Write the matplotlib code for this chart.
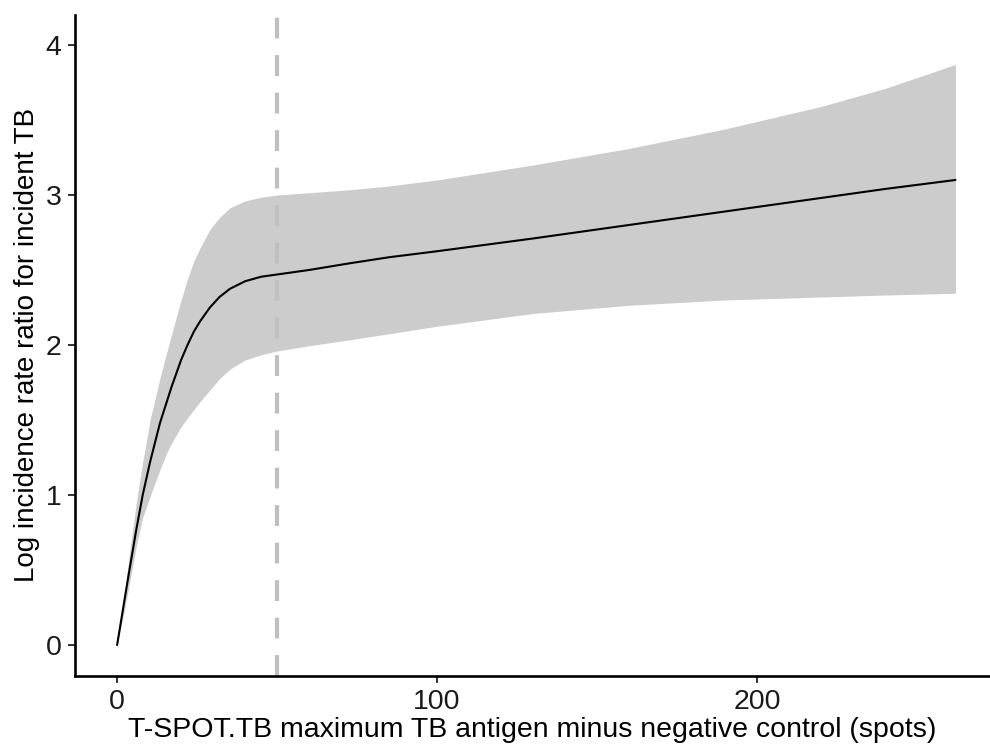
import matplotlib
matplotlib.use("Agg")
import matplotlib.pyplot as plt

plt.rcParams['font.family'] = ['Liberation Sans', 'DejaVu Sans']

# spline estimate with its 95% band, read at these spot counts
spots = [0, 2, 3.5, 6, 8, 10.3, 13.4, 15.5, 17, 20, 22, 24, 26, 29, 32, 35.3, 40, 45,
         50, 60, 72.8, 85, 100, 130, 160, 190, 220, 240, 262]
est = [0.0, 0.26, 0.455, 0.77, 1.0, 1.22, 1.48, 1.62, 1.72, 1.90, 2.00, 2.09, 2.16,
       2.25, 2.32, 2.375, 2.425, 2.455, 2.47, 2.50, 2.545, 2.585, 2.625, 2.71, 2.80,
       2.89, 2.98, 3.04, 3.10]
upper = [0.0, 0.30, 0.55, 0.95, 1.22, 1.50, 1.78, 1.95, 2.07, 2.30, 2.44, 2.56, 2.65,
         2.77, 2.85, 2.915, 2.96, 2.985, 3.0, 3.015, 3.035, 3.06, 3.10, 3.20, 3.31,
         3.44, 3.59, 3.71, 3.87]
lower = [0.0, 0.20, 0.37, 0.66, 0.85, 0.99, 1.17, 1.28, 1.345, 1.455, 1.515, 1.57, 1.625,
         1.70, 1.775, 1.84, 1.90, 1.935, 1.96, 1.995, 2.035, 2.075, 2.125, 2.21, 2.265,
         2.30, 2.32, 2.333, 2.345]

cutoff = 50

fig = plt.figure(figsize=(9.9, 7.47), dpi=100)
ax = fig.add_axes([0.0753, 0.0957, 0.9247, 0.8843])

ax.fill_between(spots, lower, upper, color='#cccccc', linewidth=0, zorder=1)
ax.plot(spots, est, color='black', linewidth=1.5, zorder=3, solid_capstyle='round')
ax.axvline(cutoff, color='#bfbfbf', linewidth=3, dashes=(5, 4), zorder=2)

ax.set_xlim(-13.3, 272.8)
ax.set_ylim(-0.203, 4.2)
ax.set_xticks([0, 100, 200])
ax.set_yticks([0, 1, 2, 3, 4])

for side in ['top', 'right']:
    ax.spines[side].set_visible(False)
for side in ['left', 'bottom']:
    ax.spines[side].set_linewidth(1.9)
    ax.spines[side].set_color('black')

ax.tick_params(axis='both', length=5, width=1.4, color='#333333', labelsize=20.5,
               labelcolor='#1a1a1a')
ax.tick_params(axis='x', pad=5)
ax.tick_params(axis='y', pad=4.5)

ax.set_xlabel('T-SPOT.TB maximum TB antigen minus negative control (spots)',
              fontsize=20.5, labelpad=1.5)
ax.set_ylabel('Log incidence rate ratio for incident TB', fontsize=20, labelpad=4)

fig.savefig('out.png', dpi=100)
